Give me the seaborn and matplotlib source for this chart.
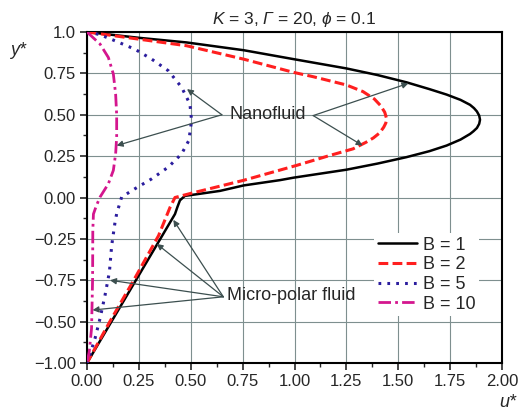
import numpy as np
import pandas as pd
import matplotlib
matplotlib.use('Agg')
import matplotlib.pyplot as plt
import seaborn as sns

# Velocity profiles u*(y*), ordered from wall y*=1 down to y*=-1
u_b1 = [0.0, 0.25, 0.48, 0.755, 0.996, 1.25, 1.40, 1.54, 1.65, 1.733, 1.80, 1.846, 1.865,
        1.879, 1.89, 1.894, 1.89, 1.879, 1.862, 1.846, 1.80, 1.733, 1.65, 1.54, 1.40, 1.25,
        0.996, 0.93, 0.755, 0.641, 0.53, 0.472, 0.448, 0.435, 0.424, 0.0]
y_b1 = [1.0, 0.965, 0.937, 0.89, 0.836, 0.78, 0.74, 0.696, 0.655, 0.622, 0.59, 0.56, 0.54,
        0.52, 0.495, 0.47, 0.445, 0.42, 0.40, 0.384, 0.35, 0.314, 0.28, 0.244, 0.205, 0.168,
        0.12, 0.105, 0.073, 0.04, 0.02, 0.01, -0.017, -0.06, -0.10, -1.0]

u_b2 = [0.0, 0.48, 0.755, 0.996, 1.09, 1.25, 1.33, 1.385, 1.415, 1.435, 1.444, 1.44, 1.43,
        1.41, 1.38, 1.345, 1.282, 1.17, 1.01, 0.755, 0.5, 0.424, 0.40, 0.345, 0.225, 0.11,
        0.035, 0.0]
y_b2 = [1.0, 0.917, 0.836, 0.756, 0.73, 0.68, 0.64, 0.595, 0.555, 0.515, 0.475, 0.45, 0.425,
        0.39, 0.36, 0.334, 0.294, 0.254, 0.194, 0.104, 0.025, 0.0, -0.06, -0.23, -0.50, -0.75,
        -0.92, -1.0]

u_b5 = [0.0, 0.06, 0.135, 0.231, 0.312, 0.392, 0.456, 0.496, 0.504, 0.491, 0.456, 0.392,
        0.312, 0.231, 0.167, 0.143, 0.135, 0.119, 0.108, 0.087, 0.063, 0.039, 0.006, 0.0]
y_b5 = [1.0, 0.985, 0.947, 0.896, 0.836, 0.766, 0.666, 0.565, 0.465, 0.345, 0.264, 0.184,
        0.113, 0.053, 0.003, -0.098, -0.15, -0.29, -0.45, -0.59, -0.73, -0.85, -0.98, -1.0]

u_b10 = [0.0, 0.063, 0.103, 0.127, 0.138, 0.143, 0.143, 0.138, 0.127, 0.103, 0.063, 0.045,
         0.031, 0.028, 0.027, 0.022, 0.011, 0.0]
y_b10 = [1.0, 0.927, 0.846, 0.746, 0.625, 0.50, 0.365, 0.264, 0.164, 0.083, 0.003, -0.05,
         -0.10, -0.2, -0.49, -0.79, -0.93, -1.0]

labels = ['B = 1', 'B = 2', 'B = 5', 'B = 10']

x_ticks = [0.0, 0.25, 0.5, 0.75, 1.0, 1.25, 1.5, 1.75, 2.0]
x_ticklabels = ['0.00', '0.25', '0.50', '0.75', '1.00', '1.25', '1.50', '1.75', '2.00']
y_ticks = [1.0, 0.75, 0.5, 0.25, 0.0, -0.25, -0.5, -0.75, -1.0]
y_ticklabels = ['1.0', '0.75', '0.50', '0.25', '0.00', '\u22120.25', '\u22120.75',
                '\u22120.50', '\u22121.00']

# arrow targets on the curves
nano_tip_left = [(0.482, 0.655), (0.143, 0.314)]
nano_tip_right = [(1.549, 0.69), (1.328, 0.314)]
micro_tips = [(0.416, -0.135), (0.336, -0.28), (0.111, -0.50), (0.027, -0.68)]

sns.set_style('ticks')
plt.rcParams['font.family'] = ['Liberation Sans', 'DejaVu Sans']
plt.rcParams['mathtext.fontset'] = 'custom'
plt.rcParams['mathtext.rm'] = 'Liberation Sans'
plt.rcParams['mathtext.it'] = 'Liberation Sans:italic'
# bf slot reused for italic so the capital Gamma is slanted too
plt.rcParams['mathtext.bf'] = 'Liberation Sans:italic'

fig = plt.figure(figsize=(5.2, 4.12), dpi=100)
ax = fig.add_axes([0.1673, 0.1189, 0.7981, 0.8034])

curves = [(u_b1, y_b1, 'black', '-', 1.8),
          (u_b2, y_b2, '#ff1f1f', (0, (3.2, 1.4)), 2.2),
          (u_b5, y_b5, '#2b1d9e', (0, (0.9, 2.0)), 2.2),
          (u_b10, y_b10, '#d4168e', (0, (4.5, 1.5, 1.0, 1.5)), 2.0)]
for (u, y, c, ls, lw), lab in zip(curves, labels):
    df = pd.DataFrame({'u': u, 'y': y})
    sns.lineplot(data=df, x='u', y='y', sort=False, estimator=None, color=c,
                 linestyle=ls, lw=lw, label=lab, ax=ax, zorder=3)

ax.set_xlim(0, 2)
ax.set_ylim(-1, 1)
ax.set_xticks(x_ticks)
ax.set_xticklabels(x_ticklabels)
ax.set_yticks(y_ticks)
ax.set_yticklabels(y_ticklabels)
ax.set_xticks(np.arange(0.125, 2, 0.25), minor=True)
ax.set_yticks(np.arange(-0.875, 1, 0.25), minor=True)
ax.tick_params(which='major', direction='out', length=5, width=1.2, labelsize=12, pad=3)
ax.tick_params(which='minor', direction='out', length=3, width=1.0)
ax.grid(True, which='major', color='#7e8f8f', lw=0.8)
for s in ax.spines.values():
    s.set_linewidth(1.5)
    s.set_color('black')
ax.set_xlabel('')
ax.set_ylabel('')

ax.set_title(r'$\mathbf{K}$ = 3, $\mathbf{\Gamma}$ = 20, $\phi$ = 0.1', fontsize=12.5, pad=6)
fig.text(0.034, 0.878, 'y*', fontsize=13, style='italic', ha='center', va='center')
fig.text(0.977, 0.022, 'u*', fontsize=13, style='italic', ha='center', va='center')

arrow = dict(arrowstyle='-|>', color='#3c4f4f', lw=0.9, mutation_scale=9,
             shrinkA=0, shrinkB=0)
ax.text(0.872, 0.50, 'Nanofluid', fontsize=13, ha='center', va='center', zorder=5)
for tip in nano_tip_left:
    ax.annotate('', xy=tip, xytext=(0.65, 0.50), arrowprops=arrow, zorder=4)
for tip in nano_tip_right:
    ax.annotate('', xy=tip, xytext=(1.09, 0.495), arrowprops=arrow, zorder=4)
ax.text(0.985, -0.595, 'Micro-polar fluid', fontsize=13, ha='center', va='center', zorder=5)
for tip in micro_tips:
    ax.annotate('', xy=tip, xytext=(0.657, -0.60), arrowprops=arrow, zorder=4)

ax.legend(loc='upper left', bbox_to_anchor=(0.67, 0.42), fontsize=13, frameon=True,
          facecolor='white', edgecolor='none', framealpha=1, handlelength=2.2,
          handletextpad=0.3, labelspacing=0.15, borderpad=0.2)

fig.savefig('out.png', dpi=100)
